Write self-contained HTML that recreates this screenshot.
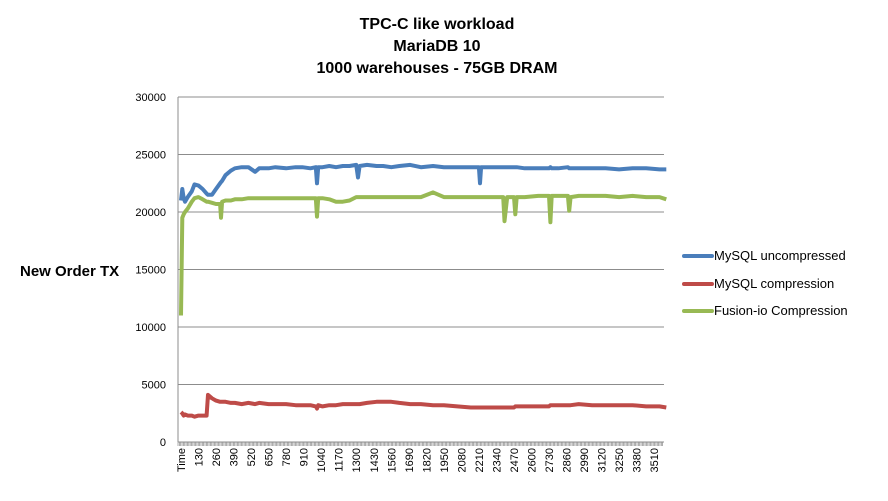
<!DOCTYPE html>
<html><head><meta charset="utf-8"><style>
body{margin:0;background:#fff;}
svg{display:block;font-family:"Liberation Sans",sans-serif;}
</style></head><body>
<svg id="chart" width="888" height="501">
<g id="titles" font-weight="bold" font-size="16" text-anchor="middle" fill="#000">
<text x="437" y="29">TPC-C like workload</text>
<text x="437" y="51">MariaDB 10</text>
<text x="437" y="73">1000 warehouses - 75GB DRAM</text>
</g>
<text x="20" y="276" font-size="15" font-weight="bold">New Order TX</text>
<g id="grid"></g><g id="xticks"></g><g id="series"></g>
<g font-size="13">
<line x1="684" y1="256" x2="712" y2="256" stroke="#4a7ebb" stroke-width="4" stroke-linecap="round"/>
<text x="714" y="260">MySQL uncompressed</text>
<line x1="684" y1="284" x2="712" y2="284" stroke="#be4b48" stroke-width="4" stroke-linecap="round"/>
<text x="714" y="288">MySQL compression</text>
<line x1="684" y1="311" x2="712" y2="311" stroke="#98b954" stroke-width="4" stroke-linecap="round"/>
<text x="714" y="315">Fusion-io Compression</text>
</g>
</svg>
<script>
const times = [0,10,20,30,50,80,100,130,160,190,200,230,260,290,297,305,330,370,400,450,500,550,580,650,700,780,850,900,960,1000,1009,1018,1050,1100,1150,1200,1250,1300,1313,1325,1380,1450,1500,1560,1620,1700,1780,1870,1950,2050,2150,2210,2218,2226,2280,2350,2390,2400,2420,2470,2480,2490,2550,2650,2730,2740,2750,2800,2870,2880,2890,2950,3050,3150,3250,3350,3450,3550,3600];
const uncompressed = [21000,22000,21200,20900,21300,21800,22400,22300,22000,21600,21500,21500,22000,22500,22600,22700,23200,23600,23800,23900,23900,23500,23800,23800,23900,23800,23900,23900,23800,23900,22500,23900,23900,24000,23900,24000,24000,24100,23000,24000,24100,24000,24000,23900,24000,24100,23900,24000,23900,23900,23900,23900,22500,23900,23900,23900,23900,23900,23900,23900,23900,23900,23800,23800,23800,23900,23800,23800,23900,23800,23800,23800,23800,23800,23700,23800,23800,23700,23700];
const compression = [2600,2500,2300,2400,2300,2300,2200,2300,2300,2300,4100,3800,3600,3500,3500,3500,3500,3400,3400,3300,3400,3300,3400,3300,3300,3300,3200,3200,3200,3100,2900,3200,3100,3200,3200,3300,3300,3300,3300,3300,3400,3500,3500,3500,3400,3300,3300,3200,3200,3100,3000,3000,3000,3000,3000,3000,3000,3000,3000,3000,3100,3100,3100,3100,3100,3200,3200,3200,3200,3200,3200,3300,3200,3200,3200,3200,3100,3100,3000];
const fusionio = [11000,19500,19800,20000,20300,20900,21200,21300,21100,20900,20900,20800,20700,20700,19500,20900,21000,21000,21100,21100,21200,21200,21200,21200,21200,21200,21200,21200,21200,21200,19600,21200,21200,21100,20900,20900,21000,21300,21300,21300,21300,21300,21300,21300,21300,21300,21300,21700,21300,21300,21300,21300,21300,21300,21300,21300,21300,19200,21300,21300,19800,21300,21300,21400,21400,19100,21400,21400,21400,20100,21300,21400,21400,21400,21300,21400,21300,21300,21100];
const yTicks = [0,5000,10000,15000,20000,25000,30000];
const xLabels = ["Time","130","260","390","520","650","780","910","1040","1170","1300","1430","1560","1690","1820","1950","2080","2210","2340","2470","2600","2730","2860","2990","3120","3250","3380","3510"];
const NS="http://www.w3.org/2000/svg";
const X0=178,X1=664,Y0=442,Y1=97;
const x=t=>181+t*0.1348;
const y=v=>Y0-(v/30000)*(Y0-Y1);
function mk(tag,attrs,parent){const e=document.createElementNS(NS,tag);for(const k in attrs)e.setAttribute(k,attrs[k]);parent.appendChild(e);return e;}
const grid=document.getElementById('grid');
yTicks.forEach(v=>{
  const l=mk('line',{x1:X0,x2:X1,y1:y(v),y2:y(v),stroke:'#8c8c8c','stroke-width':1},grid);
  
  
  const t=mk('text',{x:166,y:y(v)+4,'font-size':11,'text-anchor':'end'},grid);
  t.textContent=v;
  
  
});
const ax=mk('line',{x1:X0,x2:X0,y1:Y1,y2:Y0,stroke:'#8c8c8c'},grid);


const xt=document.getElementById('xticks');
let d='';for(let px=X0;px<=X1;px+=1.35)d+=`M${px.toFixed(2)} ${Y0}v4`;
const tk=mk('path',{d:d,stroke:'#8c8c8c','stroke-width':0.7},xt);


xLabels.forEach((s,i)=>{
  const px=x(i*130)+4;
  const t=mk('text',{x:0,y:0,'font-size':11,'text-anchor':'end',transform:`translate(${px},448) rotate(-90)`},xt);
  t.textContent=s;
  
  
});
const sg=document.getElementById('series');
[[uncompressed,'#4a7ebb','line-mysql-uncompressed'],[compression,'#be4b48','line-mysql-compression'],[fusionio,'#98b954','line-fusionio-compression']].forEach(([arr,c,n])=>{
  const p=mk('polyline',{points:arr.map((v,i)=>x(times[i]).toFixed(1)+','+y(v).toFixed(1)).join(' '),fill:'none',stroke:c,'stroke-width':4,'stroke-linejoin':'round'},sg);
  
  
});
</script>
</body></html>
